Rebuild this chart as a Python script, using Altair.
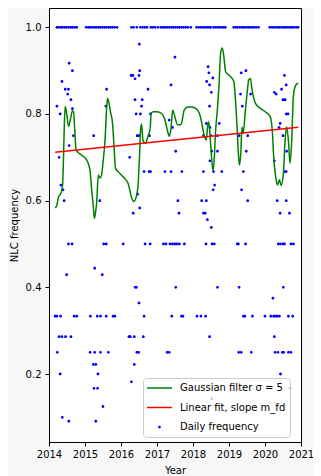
import altair as alt
import pandas as pd

G = "Gaussian filter σ = 5"
L = "Linear fit, slope m_fd"
D = "Daily frequency"

# ---- daily frequency points (value level -> years) ----
daily_ones = [
    2014.22, 2014.27, 2014.33, 2014.38, 2014.44, 2014.49, 2014.55, 2014.61, 2014.66, 2014.72,
    2014.77,
    2015.03, 2015.09, 2015.14, 2015.20, 2015.26, 2015.31, 2015.37, 2015.42, 2015.48, 2015.54,
    2015.59, 2015.65, 2015.70, 2015.76, 2015.82, 2015.89,
    2016.29, 2016.35, 2016.44,
    2016.54, 2016.60, 2016.66, 2016.72,
    2016.83, 2016.89, 2016.95, 2017.03,
    2017.11, 2017.17, 2017.22, 2017.28, 2017.34, 2017.40, 2017.45, 2017.51, 2017.57, 2017.62,
    2017.68, 2017.74, 2017.80, 2017.86, 2017.94,
    2018.10, 2018.16, 2018.22, 2018.28, 2018.34, 2018.40, 2018.45, 2018.49,
    2018.57, 2018.63, 2018.69, 2018.75, 2018.81, 2018.86, 2018.90,
    2019.13, 2019.19, 2019.24, 2019.30, 2019.36, 2019.41, 2019.47, 2019.53, 2019.58, 2019.64,
    2019.70, 2019.76, 2019.82,
    2020.13, 2020.19, 2020.24, 2020.30, 2020.36, 2020.41, 2020.47, 2020.53, 2020.58, 2020.64,
    2020.70, 2020.75, 2020.81, 2020.87, 2020.92,
]
daily_half = [
    2014.54, 2014.64, 2015.52, 2015.59, 2016.06, 2016.67, 2016.81, 2017.18, 2017.25, 2017.36,
    2017.43, 2017.49, 2017.55, 2017.62, 2017.76, 2018.36, 2018.53, 2018.59, 2019.23, 2019.26,
    2019.46, 2020.37, 2020.43, 2020.50, 2020.54, 2020.72, 2020.79,
]
daily_third = [
    2014.17, 2014.22, 2014.32, 2014.70, 2014.77, 2015.15, 2015.34, 2015.43, 2015.59, 2015.78,
    2015.83, 2016.64, 2017.41, 2017.68, 2017.72, 2018.11, 2018.22, 2018.35, 2019.40, 2019.44,
    2019.65, 2020.00, 2020.16, 2020.24, 2020.29, 2020.34, 2020.40, 2020.65, 2020.77,
]
daily_quarter = [
    2014.23, 2015.14, 2015.27, 2015.43, 2015.65, 2016.44, 2016.49, 2017.28, 2017.34, 2019.27,
    2019.34, 2019.62, 2020.28, 2020.36, 2020.48, 2020.52, 2020.65, 2020.72,
]
daily_other = [
    (0.961, [2016.51]), (0.931, [2017.50]), (0.917, [2014.56]), (0.909, [2018.42]),
    (0.9, [2014.65, 2016.52, 2019.47]), (0.895, [2018.44, 2019.34]),
    (0.889, [2016.28, 2016.33, 2016.50, 2020.54]), (0.883, [2018.55]), (0.881, [2016.39]),
    (0.875, [2014.36, 2018.38]), (0.867, [2017.39, 2018.46, 2020.59]),
    (0.857, [2014.45, 2014.54, 2015.60, 2016.75, 2020.46]), (0.85, [2018.51, 2020.26]),
    (0.846, [2014.52, 2019.32, 2019.60, 2020.31]),
    (0.833, [2014.61, 2016.39, 2016.59, 2020.50, 2020.56]),
    (0.818, [2014.22, 2015.58, 2016.57, 2018.46, 2019.37]), (0.812, [2014.65]),
    (0.8, [2014.31, 2016.42, 2016.54, 2016.82, 2020.59, 2020.64]), (0.786, [2017.34]),
    (0.778, [2018.37, 2018.73, 2020.42]), (0.769, [2017.43, 2018.47, 2020.39]),
    (0.75, [2014.68, 2015.24, 2016.45, 2016.49, 2016.79, 2018.29, 2018.50, 2018.68, 2019.28,
            2019.52, 2020.50]),
    (0.727, [2014.56]), (0.714, [2017.52, 2018.52, 2018.68, 2019.48, 2020.60]),
    (0.7, [2014.28, 2016.24]), (0.692, [2018.47, 2020.26]),
    (0.667, [2016.64, 2016.78, 2016.82, 2017.22, 2017.39, 2017.69, 2018.29, 2018.57, 2018.80,
             2019.40, 2020.55, 2020.59]),
    (0.636, [2014.33, 2018.60]), (0.625, [2014.39, 2018.56, 2019.35]), (0.615, [2016.46]),
    (0.6, [2014.42, 2015.41, 2017.58, 2018.24, 2018.37, 2019.52, 2020.34, 2020.59]),
    (0.583, [2016.52]), (0.571, [2016.34, 2017.61, 2018.29, 2018.34, 2020.42, 2020.68]),
    (0.556, [2018.40]), (0.538, [2018.51]),
    (0.444, [2015.27]), (0.429, [2014.49, 2015.48]),
    (0.4, [2016.39, 2016.43, 2017.52, 2018.68, 2019.28, 2020.51]), (0.375, [2020.22]),
    (0.364, [2016.50]),
    (0.286, [2014.28, 2014.36, 2014.46, 2014.61, 2016.22, 2016.26, 2016.37, 2016.62, 2018.46,
             2020.26]),
    (0.222, [2015.23, 2015.30, 2016.37]), (0.2, [2014.31, 2015.36, 2020.43]), (0.182, [2016.29]),
    (0.167, [2015.25, 2015.35, 2020.69]), (0.143, [2018.52]), (0.125, [2015.50]),
    (0.1, [2014.37]), (0.091, [2014.55, 2015.30]),
]

# ---- Gaussian filtered curve ----
gauss_years = [
    2014.174, 2014.220, 2014.267, 2014.331, 2014.378, 2014.394, 2014.422, 2014.449, 2014.496,
    2014.543, 2014.592, 2014.648, 2014.681, 2014.716, 2014.752, 2014.827, 2014.937, 2015.047,
    2015.138, 2015.185, 2015.232, 2015.259, 2015.295, 2015.323, 2015.370, 2015.414, 2015.460,
    2015.507, 2015.557, 2015.598, 2015.626, 2015.667, 2015.708, 2015.764, 2015.805, 2015.846,
    2015.956, 2016.058, 2016.196, 2016.287, 2016.351, 2016.425, 2016.480, 2016.521, 2016.543,
    2016.571, 2016.609, 2016.681, 2016.747, 2016.811, 2016.838, 2016.902, 2016.976, 2017.114,
    2017.205, 2017.298, 2017.343, 2017.389, 2017.436, 2017.480, 2017.574, 2017.665, 2017.756,
    2017.850, 2017.968, 2018.125, 2018.216, 2018.307, 2018.368, 2018.423, 2018.450, 2018.492,
    2018.555, 2018.588, 2018.629, 2018.676, 2018.720, 2018.767, 2018.814, 2018.858, 2018.905,
    2019.043, 2019.134, 2019.180, 2019.227, 2019.263, 2019.291, 2019.327, 2019.360, 2019.393,
    2019.456, 2019.511, 2019.547, 2019.594, 2019.641, 2019.732, 2019.870, 2020.008, 2020.145,
    2020.208, 2020.236, 2020.310, 2020.346, 2020.401, 2020.448, 2020.511, 2020.558, 2020.600,
    2020.649, 2020.696, 2020.743, 2020.787, 2020.834, 2020.881, 2020.925,
]
gauss_values = [
    0.583, 0.590, 0.609, 0.617, 0.636, 0.671, 0.763, 0.818, 0.798,
    0.771, 0.786, 0.807, 0.805, 0.763, 0.717, 0.710, 0.703, 0.694,
    0.671, 0.625, 0.586, 0.559, 0.574, 0.594, 0.659, 0.652, 0.659,
    0.694, 0.740, 0.809, 0.836, 0.825, 0.805, 0.779, 0.728, 0.675,
    0.664, 0.655, 0.640, 0.609, 0.598, 0.609, 0.643, 0.717, 0.763,
    0.777, 0.740, 0.732, 0.748, 0.767, 0.802, 0.805, 0.805, 0.802,
    0.790, 0.759, 0.748, 0.767, 0.809, 0.798, 0.775, 0.775, 0.809,
    0.816, 0.816, 0.809, 0.790, 0.752, 0.740, 0.782, 0.775, 0.728,
    0.669, 0.694, 0.763, 0.809, 0.863, 0.940, 0.952, 0.932, 0.898,
    0.886, 0.875, 0.832, 0.763, 0.705, 0.682, 0.709, 0.770, 0.755,
    0.809, 0.855, 0.878, 0.882, 0.855, 0.825, 0.813, 0.805, 0.794,
    0.755, 0.709, 0.648, 0.636, 0.648, 0.635, 0.663, 0.740, 0.770,
    0.740, 0.686, 0.740, 0.840, 0.863, 0.869, 0.871,
]

# ---- linear fit ----
fit_years = [2014.17, 2020.925]
fit_values = [0.7117, 0.7693]

rows = []
for v, ys in [(1.0, daily_ones), (0.5, daily_half), (1 / 3, daily_third), (0.25, daily_quarter)] + daily_other:
    for yr in ys:
        rows.append({"year": yr, "freq": v, "series": D})
pts = pd.DataFrame(rows)
gauss = pd.DataFrame({"year": gauss_years, "freq": gauss_values, "series": G})
fit = pd.DataFrame({"year": fit_years, "freq": fit_values, "series": L})

BAR = "M-1,-0.065H1V0.065H-1Z"
DOT = "M0.11,0A0.11,0.11 0 1,1 -0.11,0A0.11,0.11 0 1,1 0.11,0Z"
FONT = "DejaVu Sans"

x = alt.X("year:Q", scale=alt.Scale(domain=[2014, 2021], nice=False, zero=False),
          axis=alt.Axis(values=list(range(2014, 2022)), format="d", title="Year",
                        labelOverlap=False, labelFlush=False, labelBound=False))
y = alt.Y("freq:Q", scale=alt.Scale(domain=[0.0431, 1.0445], nice=False, zero=False),
          axis=alt.Axis(values=[0.2, 0.4, 0.6, 0.8, 1.0], format=".1f", title="NLC frequency",
                        labelFlush=False))
color = alt.Color("series:N",
                  scale=alt.Scale(domain=[G, L, D], range=["#008000", "#ff0000", "#0000ff"]),
                  legend=alt.Legend(title=None))
shape = alt.Shape("series:N", scale=alt.Scale(domain=[G, L, D], range=[BAR, BAR, DOT]),
                  legend=alt.Legend(title=None))

points = alt.Chart(pts).mark_point(filled=True, size=640, opacity=1).encode(
    x=x, y=y, color=color, shape=shape)
gline = alt.Chart(gauss).mark_line(strokeWidth=1.5, interpolate="monotone").encode(
    x=x, y=y, color=color)
fline = alt.Chart(fit).mark_line(strokeWidth=1.5).encode(x=x, y=y, color=color)

chart = (
    alt.layer(points, gline, fline)
    .properties(
        width=252, height=434,
        autosize=alt.AutoSizeParams(type="none"),
        padding={"left": 41, "top": 0, "right": 12, "bottom": 34},
        background="#f7f7f7",
    )
    .configure_view(stroke="black", strokeWidth=1, fill="white")
    .configure_axis(
        grid=False, labelFont=FONT, labelFontSize=10, labelColor="black",
        titleFont=FONT, titleFontSize=10, titleFontWeight="normal", titleColor="black",
        tickColor="black", tickSize=4, tickWidth=1, domainColor="black", domainWidth=1,
        labelPadding=4,
    )
    .configure_axisY(titlePadding=6)
    .configure_axisX(labelPadding=3, titlePadding=6)
    .configure_legend(
        orient="none", legendX=94, legendY=370, padding=4, clipHeight=12, rowPadding=7.5,
        symbolSize=625, symbolStrokeWidth=0, labelOffset=8, labelFont=FONT, labelFontSize=10,
        labelColor="black", labelLimit=300, strokeColor="#cccccc",
        fillColor="rgba(255,255,255,0.8)", cornerRadius=3,
    )
)

chart.save("out.html", embed_options={"renderer": "svg", "actions": False})
